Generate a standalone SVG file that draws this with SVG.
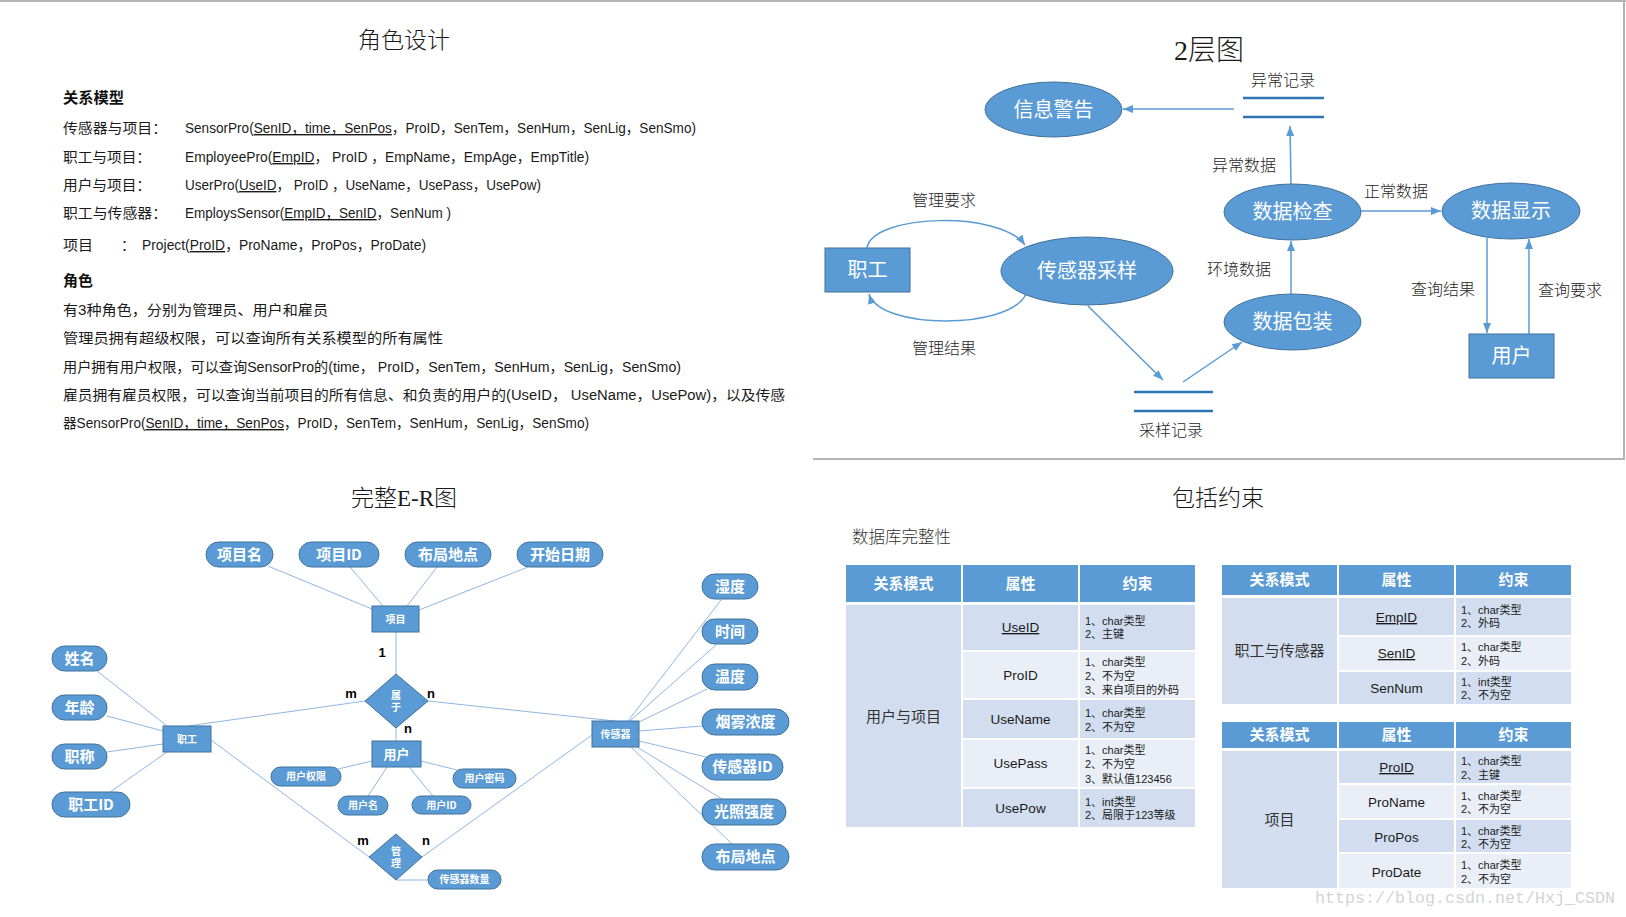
<svg xmlns="http://www.w3.org/2000/svg" width="1626" height="917" viewBox="0 0 1626 917">
<defs>
<style>
.bg{fill:#fff}
.title{font-family:"Liberation Serif","Noto Sans CJK SC",serif;font-weight:300;fill:#1a1a1a;text-anchor:middle}
.t{font-family:"Liberation Sans","Noto Sans CJK SC",sans-serif;font-size:14px;fill:#1a1a1a}
.tb{font-family:"Noto Sans CJK SC",sans-serif;font-size:15px;font-weight:bold;fill:#111}
.u{text-decoration:underline}
.node{fill:#5b9bd5;stroke:#41719c;stroke-width:1}
.nt{font-family:"Noto Sans CJK SC","Liberation Sans",sans-serif;fill:#fff;text-anchor:middle}
.lbl{font-family:"Noto Sans CJK SC",sans-serif;font-size:16px;fill:#262626;text-anchor:middle;font-weight:300}
.arr{stroke:#5b9bd5;stroke-width:1.5;fill:none;marker-end:url(#ah)}
.store{stroke:#2e75b6;stroke-width:2.5}
.erl{stroke:#8fb7e3;stroke-width:1;fill:none}
.ptxt{font-family:"Noto Sans CJK SC","Liberation Sans",sans-serif;font-weight:bold;fill:#fff;text-anchor:middle}
.mn{font-family:"Liberation Sans",sans-serif;font-weight:bold;font-size:13px;fill:#000;text-anchor:middle}
.hd{fill:#5b9bd5;stroke:#fff;stroke-width:2}
.c1{fill:#d2deef;stroke:#fff;stroke-width:2}
.c2{fill:#eaeff7;stroke:#fff;stroke-width:2}
.ht{font-family:"Noto Sans CJK SC",sans-serif;font-size:15px;font-weight:bold;fill:#fff;text-anchor:middle}
.rt{font-family:"Noto Sans CJK SC",sans-serif;font-size:15px;fill:#333;text-anchor:middle}
.at{font-family:"Liberation Sans","Noto Sans CJK SC",sans-serif;font-size:13.5px;fill:#1a1a1a;text-anchor:middle}
.ct{font-family:"Liberation Sans","Noto Sans CJK SC",sans-serif;font-size:11px;fill:#1a1a1a}
.border{stroke:#b4b4b4;stroke-width:2;fill:none}
</style>
<marker id="ah" markerUnits="userSpaceOnUse" markerWidth="10" markerHeight="8" refX="10" refY="4" orient="auto">
<path d="M0,0 L10,4 L0,8 z" fill="#5b9bd5"/>
</marker>
</defs>
<rect class="bg" x="0" y="0" width="1626" height="917"/>

<!-- borders -->
<g id="borders">
<line class="border" x1="0" y1="1" x2="1626" y2="1"/>
<line class="border" x1="1624" y1="0" x2="1624" y2="460"/>
<line class="border" x1="813" y1="459" x2="1625" y2="459"/>
</g>

<!-- Section 1: 角色设计 -->
<g id="role-design">
<text class="title" x="404" y="48" font-size="23">角色设计</text>
<text class="tb" x="63" y="103" textLength="61" lengthAdjust="spacingAndGlyphs">关系模型</text>
<text class="t" x="63" y="133" textLength="104" lengthAdjust="spacingAndGlyphs">传感器与项目：</text>
<text class="t" x="185" y="133" textLength="511" lengthAdjust="spacingAndGlyphs">SensorPro(<tspan class="u">SenID，time，SenPos</tspan>，ProID，SenTem，SenHum，SenLig，SenSmo)</text>
<text class="t" x="63" y="162" textLength="88" lengthAdjust="spacingAndGlyphs">职工与项目：</text>
<text class="t" x="185" y="162" textLength="404" lengthAdjust="spacingAndGlyphs">EmployeePro(<tspan class="u">EmpID</tspan>， ProID ，EmpName，EmpAge，EmpTitle)</text>
<text class="t" x="63" y="190" textLength="88" lengthAdjust="spacingAndGlyphs">用户与项目：</text>
<text class="t" x="185" y="190" textLength="356" lengthAdjust="spacingAndGlyphs">UserPro(<tspan class="u">UseID</tspan>， ProID ，UseName，UsePass，UsePow)</text>
<text class="t" x="63" y="218" textLength="104" lengthAdjust="spacingAndGlyphs">职工与传感器：</text>
<text class="t" x="185" y="218" textLength="266" lengthAdjust="spacingAndGlyphs">EmploysSensor(<tspan class="u">EmpID，SenID</tspan>，SenNum )</text>
<text class="t" x="63" y="250" textLength="30" lengthAdjust="spacingAndGlyphs">项目</text>
<text class="t" x="121" y="250">：</text>
<text class="t" x="142" y="250" textLength="284" lengthAdjust="spacingAndGlyphs">Project(<tspan class="u">ProID</tspan>，ProName，ProPos，ProDate)</text>
<text class="tb" x="63" y="286" textLength="30" lengthAdjust="spacingAndGlyphs">角色</text>
<text class="t" x="63" y="315" textLength="265" lengthAdjust="spacingAndGlyphs">有3种角色，分别为管理员、用户和雇员</text>
<text class="t" x="63" y="343" textLength="380" lengthAdjust="spacingAndGlyphs">管理员拥有超级权限，可以查询所有关系模型的所有属性</text>
<text class="t" x="63" y="372" textLength="618" lengthAdjust="spacingAndGlyphs">用户拥有用户权限，可以查询SensorPro的(time， ProID，SenTem，SenHum，SenLig，SenSmo)</text>
<text class="t" x="63" y="400" textLength="722" lengthAdjust="spacingAndGlyphs">雇员拥有雇员权限，可以查询当前项目的所有信息、和负责的用户的(UseID， UseName，UsePow)，以及传感</text>
<text class="t" x="63" y="428" textLength="526" lengthAdjust="spacingAndGlyphs">器SensorPro(<tspan class="u">SenID，time，SenPos</tspan>，ProID，SenTem，SenHum，SenLig，SenSmo)</text>
</g>

<!-- Section 2: 2层图 -->
<text class="title" x="1209" y="60" font-size="28">2层图</text>
<g id="dfd-connectors">
<line class="arr" x1="1234" y1="109" x2="1123" y2="109"/>
<line class="arr" x1="1291" y1="184" x2="1290" y2="126"/>
<line class="arr" x1="1361" y1="211" x2="1441" y2="211"/>
<path class="arr" d="M867,248 C872,214 1000,210 1025,245"/>
<path class="arr" d="M1026,294 C1010,330 880,330 869,294"/>
<line class="arr" x1="1088" y1="306" x2="1163" y2="380"/>
<line class="arr" x1="1183" y1="382" x2="1242" y2="342"/>
<line class="arr" x1="1291" y1="294" x2="1291" y2="241"/>
<line class="arr" x1="1487" y1="238" x2="1487" y2="333"/>
<line class="arr" x1="1529" y1="334" x2="1529" y2="239"/>
</g>
<g id="dfd-labels">
<text class="lbl" x="1283" y="86">异常记录</text>
<text class="lbl" x="1244" y="171">异常数据</text>
<text class="lbl" x="1396" y="197">正常数据</text>
<text class="lbl" x="944" y="206">管理要求</text>
<text class="lbl" x="944" y="354">管理结果</text>
<text class="lbl" x="1239" y="275">环境数据</text>
<text class="lbl" x="1171" y="436">采样记录</text>
<text class="lbl" x="1443" y="295">查询结果</text>
<text class="lbl" x="1570" y="296">查询要求</text>
</g>
<g id="store-abnormal">
<line class="store" x1="1243" y1="98" x2="1324" y2="98"/>
<line class="store" x1="1243" y1="117" x2="1324" y2="117"/>
</g>
<g id="store-sample">
<line class="store" x1="1134" y1="392" x2="1213" y2="392"/>
<line class="store" x1="1134" y1="411" x2="1213" y2="411"/>
</g>
<g id="dfd-warning">
<ellipse class="node" cx="1053.5" cy="109.5" rx="68.5" ry="27.5"/>
<text class="nt" x="1053.5" y="117" font-size="20">信息警告</text>
</g>
<g id="dfd-check">
<ellipse class="node" cx="1292.5" cy="212" rx="68.5" ry="28"/>
<text class="nt" x="1292.5" y="219" font-size="20">数据检查</text>
</g>
<g id="dfd-display">
<ellipse class="node" cx="1511" cy="211" rx="69" ry="28"/>
<text class="nt" x="1511" y="218" font-size="20">数据显示</text>
</g>
<g id="dfd-employee">
<rect class="node" x="825" y="248" width="85" height="44"/>
<text class="nt" x="867.5" y="277" font-size="20">职工</text>
</g>
<g id="dfd-sampling">
<ellipse class="node" cx="1087" cy="271" rx="86" ry="34"/>
<text class="nt" x="1087" y="278" font-size="20">传感器采样</text>
</g>
<g id="dfd-pack">
<ellipse class="node" cx="1292.5" cy="322" rx="68.5" ry="28"/>
<text class="nt" x="1292.5" y="329" font-size="20">数据包装</text>
</g>
<g id="dfd-user">
<rect class="node" x="1469" y="334" width="85" height="44"/>
<text class="nt" x="1511.5" y="363" font-size="20">用户</text>
</g>

<!-- Section 3: 完整E-R图 -->
<text class="title" x="404" y="506" font-size="23">完整E-R图</text>
<g id="er-connectors" class="erl">
<line x1="268" y1="566" x2="372" y2="609"/>
<line x1="350" y1="567" x2="383" y2="606"/>
<line x1="437" y1="567" x2="407" y2="606"/>
<line x1="528" y1="567" x2="419" y2="610"/>
<line x1="396" y1="632" x2="396" y2="674"/>
<line x1="97" y1="671" x2="167" y2="726"/>
<line x1="107" y1="716" x2="163" y2="731"/>
<line x1="107" y1="752" x2="163" y2="744"/>
<line x1="110" y1="792" x2="167" y2="752"/>
<line x1="188" y1="726" x2="365" y2="701"/>
<line x1="211" y1="740" x2="369" y2="857"/>
<line x1="396" y1="728" x2="396" y2="741"/>
<line x1="372" y1="761" x2="338" y2="769"/>
<line x1="387" y1="767" x2="368" y2="796"/>
<line x1="421" y1="761" x2="457" y2="770"/>
<line x1="409" y1="767" x2="433" y2="796"/>
<line x1="396" y1="880" x2="428" y2="880"/>
<line x1="428" y1="701" x2="615" y2="721"/>
<line x1="422" y1="857" x2="592" y2="735"/>
<line x1="628" y1="721" x2="721" y2="600"/>
<line x1="630" y1="721" x2="716" y2="645"/>
<line x1="639" y1="722" x2="707" y2="689"/>
<line x1="639" y1="731" x2="702" y2="726"/>
<line x1="639" y1="741" x2="706" y2="757"/>
<line x1="637" y1="747" x2="722" y2="799"/>
<line x1="631" y1="747" x2="732" y2="844"/>
</g>
<g id="er-cardinality">
<text class="mn" x="382" y="657">1</text>
<text class="mn" x="351" y="698">m</text>
<text class="mn" x="431" y="698">n</text>
<text class="mn" x="408" y="733">n</text>
<text class="mn" x="363" y="845">m</text>
<text class="mn" x="426" y="845">n</text>
</g>
<g id="er-proname"><rect class="node" x="206" y="542" width="67" height="25" rx="12.5"/><text class="ptxt" x="239.5" y="560" font-size="15">项目名</text></g>
<g id="er-proid"><rect class="node" x="299" y="542" width="80" height="25" rx="12.5"/><text class="ptxt" x="339" y="560" font-size="15">项目ID</text></g>
<g id="er-propos"><rect class="node" x="405" y="542" width="86" height="25" rx="12.5"/><text class="ptxt" x="448" y="560" font-size="15">布局地点</text></g>
<g id="er-prodate"><rect class="node" x="517" y="542" width="86" height="25" rx="12.5"/><text class="ptxt" x="560" y="560" font-size="15">开始日期</text></g>
<g id="er-name"><rect class="node" x="52" y="646" width="55" height="25" rx="12.5"/><text class="ptxt" x="79.5" y="664" font-size="15">姓名</text></g>
<g id="er-age"><rect class="node" x="52" y="695" width="55" height="25" rx="12.5"/><text class="ptxt" x="79.5" y="713" font-size="15">年龄</text></g>
<g id="er-title"><rect class="node" x="52" y="744" width="55" height="25" rx="12.5"/><text class="ptxt" x="79.5" y="762" font-size="15">职称</text></g>
<g id="er-empid"><rect class="node" x="52" y="792" width="78" height="25" rx="12.5"/><text class="ptxt" x="91" y="810" font-size="15">职工ID</text></g>
<g id="er-hum"><rect class="node" x="702" y="574" width="56" height="25" rx="12.5"/><text class="ptxt" x="730" y="592" font-size="15">湿度</text></g>
<g id="er-time"><rect class="node" x="702" y="619" width="56" height="25" rx="12.5"/><text class="ptxt" x="730" y="637" font-size="15">时间</text></g>
<g id="er-tem"><rect class="node" x="702" y="664" width="56" height="26" rx="13"/><text class="ptxt" x="730" y="682" font-size="15">温度</text></g>
<g id="er-smo"><rect class="node" x="702" y="709" width="87" height="26" rx="13"/><text class="ptxt" x="745.5" y="727" font-size="15">烟雾浓度</text></g>
<g id="er-senid"><rect class="node" x="702" y="754" width="81" height="26" rx="13"/><text class="ptxt" x="742.5" y="772" font-size="15">传感器ID</text></g>
<g id="er-lig"><rect class="node" x="702" y="799" width="84" height="26" rx="13"/><text class="ptxt" x="744" y="817" font-size="15">光照强度</text></g>
<g id="er-senpos"><rect class="node" x="702" y="844" width="87" height="26" rx="13"/><text class="ptxt" x="745.5" y="862" font-size="15">布局地点</text></g>
<g id="er-usepow"><rect class="node" x="271" y="767" width="70" height="19" rx="9.5"/><text class="ptxt" x="306" y="780" font-size="10">用户权限</text></g>
<g id="er-usename"><rect class="node" x="338" y="796" width="50" height="19" rx="9.5"/><text class="ptxt" x="363" y="809" font-size="10">用户名</text></g>
<g id="er-usepass"><rect class="node" x="453" y="769" width="63" height="19" rx="9.5"/><text class="ptxt" x="484.5" y="782" font-size="10">用户密码</text></g>
<g id="er-useid"><rect class="node" x="412" y="796" width="59" height="18" rx="9"/><text class="ptxt" x="441.5" y="809" font-size="10">用户ID</text></g>
<g id="er-sennum"><rect class="node" x="428" y="870" width="73" height="19" rx="9.5"/><text class="ptxt" x="464.5" y="883" font-size="10">传感器数量</text></g>
<g id="er-project"><rect class="node" x="372" y="606" width="47" height="26"/><text class="ptxt" x="395.5" y="623" font-size="10">项目</text></g>
<g id="er-employee"><rect class="node" x="163" y="726" width="48" height="26"/><text class="ptxt" x="187" y="743" font-size="10">职工</text></g>
<g id="er-user"><rect class="node" x="372" y="741" width="49" height="26"/><text class="ptxt" x="396.5" y="759" font-size="13">用户</text></g>
<g id="er-sensor"><rect class="node" x="592" y="721" width="47" height="26"/><text class="ptxt" x="615.5" y="738" font-size="10">传感器</text></g>
<g id="er-belong"><polygon class="node" points="396,674 428,701 396,728 365,701"/><text class="ptxt" x="396" y="699" font-size="10">属</text><text class="ptxt" x="396" y="711" font-size="10">于</text></g>
<g id="er-manage"><polygon class="node" points="396,834 422,857 396,880 369,857"/><text class="ptxt" x="396" y="855" font-size="10">管</text><text class="ptxt" x="396" y="867" font-size="10">理</text></g>

<!-- Section 4: 包括约束 -->
<text class="title" x="1218" y="506" font-size="23">包括约束</text>
<text x="852" y="543" font-family="Noto Sans CJK SC,sans-serif" font-size="16.5" font-weight="300" fill="#333">数据库完整性</text>

<g id="table-userpro">
<rect class="hd" x="845" y="564" width="117" height="39"/>
<rect class="hd" x="962" y="564" width="117" height="39"/>
<rect class="hd" x="1079" y="564" width="117" height="39"/>
<text class="ht" x="903.5" y="589">关系模式</text>
<text class="ht" x="1020.5" y="589">属性</text>
<text class="ht" x="1137.5" y="589">约束</text>
<rect class="c1" x="845" y="604" width="117" height="224"/>
<rect class="c1" x="962" y="604" width="117" height="47"/><rect class="c1" x="1079" y="604" width="117" height="47"/>
<rect class="c2" x="962" y="651" width="117" height="48"/><rect class="c2" x="1079" y="651" width="117" height="48"/>
<rect class="c1" x="962" y="699" width="117" height="40"/><rect class="c1" x="1079" y="699" width="117" height="40"/>
<rect class="c2" x="962" y="739" width="117" height="49"/><rect class="c2" x="1079" y="739" width="117" height="49"/>
<rect class="c1" x="962" y="788" width="117" height="40"/><rect class="c1" x="1079" y="788" width="117" height="40"/>
<text class="rt" x="903.5" y="722">用户与项目</text>
<text class="at u" x="1020.5" y="632">UseID</text>
<text class="at" x="1020.5" y="680">ProID</text>
<text class="at" x="1020.5" y="724">UseName</text>
<text class="at" x="1020.5" y="768">UsePass</text>
<text class="at" x="1020.5" y="813">UsePow</text>
<text class="ct" x="1085" y="625">1、char类型</text><text class="ct" x="1085" y="638">2、主键</text>
<text class="ct" x="1085" y="666">1、char类型</text><text class="ct" x="1085" y="680">2、不为空</text><text class="ct" x="1085" y="694">3、来自项目的外码</text>
<text class="ct" x="1085" y="717">1、char类型</text><text class="ct" x="1085" y="731">2、不为空</text>
<text class="ct" x="1085" y="754">1、char类型</text><text class="ct" x="1085" y="768">2、不为空</text><text class="ct" x="1085" y="783">3、默认值123456</text>
<text class="ct" x="1085" y="806">1、int类型</text><text class="ct" x="1085" y="819">2、局限于123等级</text>
</g>

<g id="table-employsensor">
<rect class="hd" x="1221" y="564" width="117" height="32"/>
<rect class="hd" x="1338" y="564" width="117" height="32"/>
<rect class="hd" x="1455" y="564" width="117" height="32"/>
<text class="ht" x="1279.5" y="585">关系模式</text>
<text class="ht" x="1396.5" y="585">属性</text>
<text class="ht" x="1513.5" y="585">约束</text>
<rect class="c1" x="1221" y="597" width="117" height="108"/>
<rect class="c1" x="1338" y="597" width="117" height="39"/><rect class="c1" x="1455" y="597" width="117" height="39"/>
<rect class="c2" x="1338" y="636" width="117" height="35"/><rect class="c2" x="1455" y="636" width="117" height="35"/>
<rect class="c1" x="1338" y="671" width="117" height="34"/><rect class="c1" x="1455" y="671" width="117" height="34"/>
<text class="rt" x="1279.5" y="656">职工与传感器</text>
<text class="at u" x="1396.5" y="622">EmpID</text>
<text class="at u" x="1396.5" y="658">SenID</text>
<text class="at" x="1396.5" y="693">SenNum</text>
<text class="ct" x="1461" y="614">1、char类型</text><text class="ct" x="1461" y="627">2、外码</text>
<text class="ct" x="1461" y="651">1、char类型</text><text class="ct" x="1461" y="665">2、外码</text>
<text class="ct" x="1461" y="686">1、int类型</text><text class="ct" x="1461" y="699">2、不为空</text>
</g>

<g id="table-project">
<rect class="hd" x="1221" y="721" width="117" height="28"/>
<rect class="hd" x="1338" y="721" width="117" height="28"/>
<rect class="hd" x="1455" y="721" width="117" height="28"/>
<text class="ht" x="1279.5" y="740">关系模式</text>
<text class="ht" x="1396.5" y="740">属性</text>
<text class="ht" x="1513.5" y="740">约束</text>
<rect class="c1" x="1221" y="750" width="117" height="139"/>
<rect class="c1" x="1338" y="750" width="117" height="34"/><rect class="c1" x="1455" y="750" width="117" height="34"/>
<rect class="c2" x="1338" y="784" width="117" height="35"/><rect class="c2" x="1455" y="784" width="117" height="35"/>
<rect class="c1" x="1338" y="819" width="117" height="34"/><rect class="c1" x="1455" y="819" width="117" height="34"/>
<rect class="c2" x="1338" y="853" width="117" height="36"/><rect class="c2" x="1455" y="853" width="117" height="36"/>
<text class="rt" x="1279.5" y="825">项目</text>
<text class="at u" x="1396.5" y="772">ProID</text>
<text class="at" x="1396.5" y="807">ProName</text>
<text class="at" x="1396.5" y="842">ProPos</text>
<text class="at" x="1396.5" y="877">ProDate</text>
<text class="ct" x="1461" y="765">1、char类型</text><text class="ct" x="1461" y="779">2、主键</text>
<text class="ct" x="1461" y="800">1、char类型</text><text class="ct" x="1461" y="813">2、不为空</text>
<text class="ct" x="1461" y="835">1、char类型</text><text class="ct" x="1461" y="848">2、不为空</text>
<text class="ct" x="1461" y="869">1、char类型</text><text class="ct" x="1461" y="883">2、不为空</text>
</g>

<text x="1315" y="903" font-family="Liberation Mono,monospace" font-size="17" fill="#d4d4d4" textLength="300" lengthAdjust="spacingAndGlyphs">https://blog.csdn.net/Hxj_CSDN</text>
</svg>
